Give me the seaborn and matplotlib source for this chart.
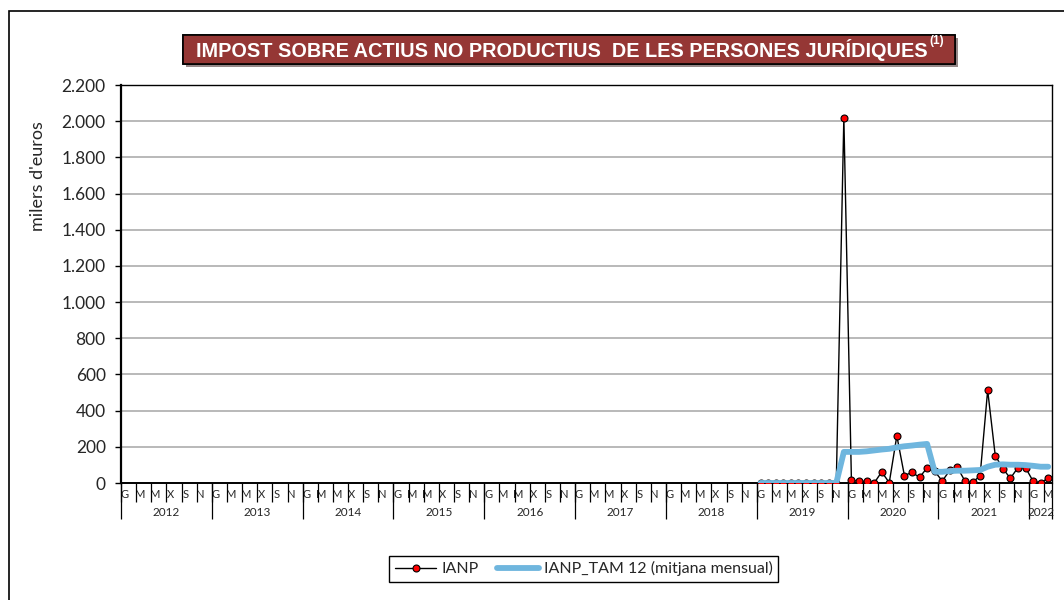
import matplotlib
matplotlib.use("Agg")
import matplotlib.pyplot as plt
import matplotlib.patheffects as pe
import numpy as np
import pandas as pd
import seaborn as sns
from matplotlib.patches import Rectangle
from matplotlib.text import Annotation
from matplotlib.ticker import FuncFormatter

# --- data (milers d'euros) ---
YEARS = list(range(2012, 2023))
MONTHS_LAST_YEAR = 3          # the series ends in March 2022
MONTH_INITIALS = ["G", "F", "M", "A", "M", "J", "X", "A", "S", "O", "N", "D"]
FIRST_YEAR_WITH_DATA = 2019   # values start in January 2019

IANP = [
    # 2019
    0, 0, 0, 0, 0, 0, 0, 0, 0, 0, 0, 2020,
    # 2020
    15, 9, 9, 0, 61, 2, 261, 41, 59, 31, 84, 65,
    # 2021
    11, 70, 86, 11, 3, 40, 513, 152, 80, 26, 85, 85,
    # 2022
    10, 2, 26,
]
IANP_TAM12 = [
    # 2019
    0, 0, 0, 0, 0, 0, 0, 0, 0, 0, 0, 172,
    # 2020
    172, 172, 175, 180, 185, 189, 197, 203, 207, 212, 216, 62,
    # 2021
    62, 66, 68, 68, 70, 72, 90, 101, 103, 101, 101, 99,
    # 2022
    95, 90, 90,
]
Y_TICKS = list(range(0, 2201, 200))

TITLE = "IMPOST SOBRE ACTIUS NO PRODUCTIUS  DE LES PERSONES JURÍDIQUES"
LABEL_IANP = "IANP"
LABEL_TAM = "IANP_TAM 12 (mitjana mensual)"

TITLE_RED = "#953735"
TAM_BLUE = "#6FB6DE"
GRID_GREY = "#A6A6A6"

# --- category axis: one slot per month ---
cats = []
for y in YEARS:
    n = MONTHS_LAST_YEAR if y == YEARS[-1] else 12
    for m in range(n):
        cats.append((y, m))
n_cats = len(cats)
start = [i for i, (y, m) in enumerate(cats) if y == FIRST_YEAR_WITH_DATA][0]

df = pd.DataFrame({
    "pos": np.arange(start, start + len(IANP)),
    "IANP": IANP,
    "TAM": IANP_TAM12,
})

sns.set_style("white")
plt.rcParams["font.family"] = ["Lato", "DejaVu Sans"]
plt.rcParams["axes.unicode_minus"] = False

W, H = 1064, 600
fig = plt.figure(figsize=(W / 100, H / 100), dpi=100)
ax = fig.add_axes([121 / W, 1 - 483 / H, 931 / W, 398 / H])

sns.lineplot(data=df, x="pos", y="IANP", ax=ax, color="black", linewidth=1.0,
             marker="o", markersize=5, markerfacecolor="red",
             markeredgecolor="black", markeredgewidth=0.8,
             label=LABEL_IANP, zorder=3)
sns.lineplot(data=df, x="pos", y="TAM", ax=ax, color=TAM_BLUE, linewidth=4.2,
             label=LABEL_TAM, zorder=4)

ax.set_xlim(-0.5, n_cats - 0.5)
ax.set_ylim(Y_TICKS[0], Y_TICKS[-1])
ax.set_yticks(Y_TICKS)
ax.yaxis.set_major_formatter(FuncFormatter(lambda v, _: f"{v:,.0f}".replace(",", ".")))
ax.tick_params(axis="y", which="major", length=4, width=1, color="black",
               pad=7, labelsize=12.5, direction="out", left=True)
ax.yaxis.grid(True, color=GRID_GREY, linewidth=1.1)
ax.xaxis.grid(False)
ax.set_axisbelow(True)

for side, sp in ax.spines.items():
    sp.set_visible(True)
    sp.set_color("black")
    sp.set_linewidth(1.0)
ax.spines["left"].set_linewidth(1.6)
ax.spines["bottom"].set_linewidth(1.4)

# month labels every second month, separators every two months
label_pos = [i for i, (y, m) in enumerate(cats) if m % 2 == 0]
label_txt = [MONTH_INITIALS[cats[i][1]] for i in label_pos]
ax.set_xticks(label_pos, labels=label_txt)
sep_pos = [i - 0.5 for i in label_pos]
ax.set_xticks(sep_pos, minor=True)
ax.tick_params(axis="x", which="major", length=0, pad=4, labelsize=8)
ax.tick_params(axis="x", which="minor", length=13.5, width=0.9,
               color="black", direction="out", bottom=True)
ax.set_xlabel("")

# year row underneath
year_bounds = [i - 0.5 for i, (y, m) in enumerate(cats) if m == 0] + [n_cats - 0.5]
year_centers = [(a + b) / 2 for a, b in zip(year_bounds[:-1], year_bounds[1:])]
sec = ax.secondary_xaxis("bottom")
sec.set_xticks(year_bounds, labels=[""] * len(year_bounds))
sec.set_xticks(year_centers, labels=[str(y) for y in YEARS], minor=True)
sec.tick_params(which="major", length=26, width=0.9, color="black", direction="out")
sec.tick_params(which="minor", length=0, pad=17, labelsize=8.5)
sec.spines["bottom"].set_visible(False)

ax.set_ylabel("milers d'euros", fontsize=13)
ax.yaxis.set_label_coords(-0.081, 0.771)

leg = ax.legend(loc="center", bbox_to_anchor=(0.497, -0.216), ncol=2,
                frameon=True, fancybox=False, edgecolor="black", framealpha=1,
                fontsize=11.5, handlelength=2.6, columnspacing=1.2,
                borderpad=0.35, handletextpad=0.3)
leg.get_frame().set_linewidth(1.0)

# title box with shadow
box = Rectangle((183 / W, 1 - 64 / H), 772 / W, 29 / H, transform=fig.transFigure,
                facecolor=TITLE_RED, edgecolor="black", linewidth=1.2, zorder=5)
box.set_path_effects([pe.withSimplePatchShadow(offset=(2, -2), alpha=0.5), pe.Normal()])
fig.add_artist(box)
title = fig.text(562 / W, 1 - 50 / H, TITLE, ha="center", va="center", color="white",
                 fontweight="bold", family="Liberation Sans", fontsize=14.3, zorder=6)
sup = Annotation("(1)", xy=(1, 0.62), xycoords=title, xytext=(1, 0),
                 textcoords="offset points", ha="left", va="bottom", color="white",
                 fontweight="bold", family="Liberation Sans", fontsize=8.5,
                 annotation_clip=False, zorder=7)
fig.add_artist(sup)

# outer chart frame
frame = Rectangle((9 / W, -0.1), 1.2, 1.1 - 11 / H, transform=fig.transFigure,
                  fill=False, edgecolor="black", linewidth=1.2)
fig.add_artist(frame)

fig.savefig("out.png", dpi=100)
